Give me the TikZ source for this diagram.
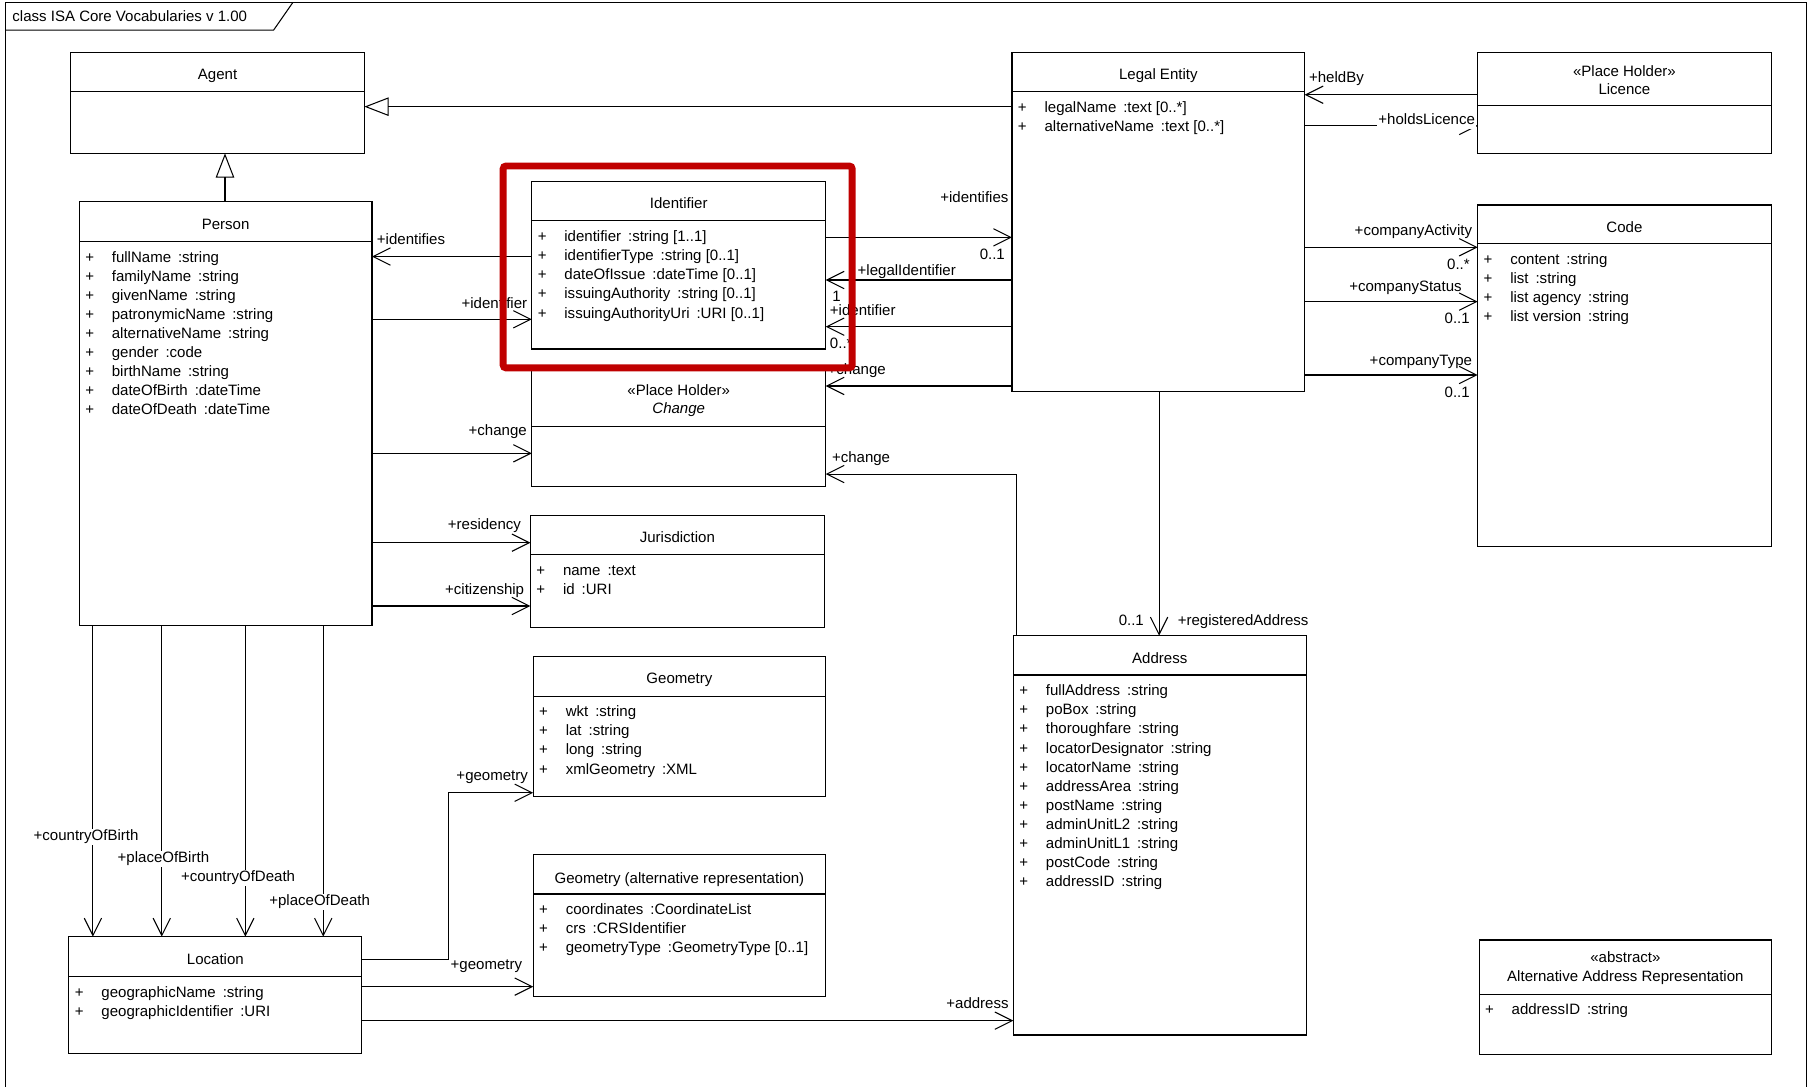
\documentclass[tikz,border=0pt]{standalone}
\usepackage{fontspec}
\setmainfont{Liberation Sans}
\usetikzlibrary{arrows.meta}
\definecolor{hlred}{RGB}{192,0,0}
\newcommand\mysep{\hspace{6pt}}
\tikzset{
  cls/.style={draw, line width=0.9pt, fill=white, inner sep=0pt, outer sep=0pt},
  ln/.style={line width=0.9pt},
  ttlC/.style={inner sep=0pt, anchor=base, yshift=-4.6pt},
  attrW/.style={inner sep=0pt, anchor=base west},
  lW/.style={inner sep=0pt, anchor=base west, yshift=-4.6pt},
  lE/.style={inner sep=0pt, anchor=base east, yshift=-4.6pt},
  lC/.style={inner sep=1pt, anchor=base, yshift=-4.6pt, fill=white},
  lEw/.style={inner sep=1pt, anchor=base east, yshift=-4.6pt, fill=white, text depth=3pt},
  assoc/.style={line width=0.9pt, -{Straight Barb[length=15pt,width=15pt]}},
  gen/.style={line width=0.9pt, -{Triangle[open,length=21pt,width=16pt]}},
}
\newcommand\umlbox[6]{%
  \node[cls, minimum width={(#4-#2)*1pt}, minimum height={(#5-#3)*1pt}] (#1) at ({(#2+#4)/2},{(#3+#5)/2}) {};
  \draw[ln] (#1.west |- 0,#6) -- (#1.east |- 0,#6);
}
\newcommand\attrs[4]{%
  \foreach \attrtext [count=\ai] in {#4} {
    \pgfmathsetmacro\attry{#3+13.4+16.5*(\ai-1)+4.6}
    \node[attrW] (#1-a\ai) at ({#2+5},\attry) {\makebox[23pt][l]{+}\attrtext};
  }
}
\begin{document}
\begin{tikzpicture}[x=1pt,y=-1pt,font=\fontsize{13}{15}\selectfont]
\useasboundingbox (0,0) rectangle (1568,940);
\clip (0,0) rectangle (1568,940);
\fill[white] (0,0) rectangle (1568,940);

% frame
\draw[ln] (5,990) -- (5,2.3) -- (1563.3,2.3) -- (1563.3,990);
\draw[ln] (5,26) -- (236.8,26) -- (253.3,2.3);
\node[lW] (frametitle) at (10.6,13.6) {class ISA Core Vocabularies v 1.00};

% classes
\umlbox{agent}{61.3}{45.3}{315.3}{132.7}{79.3}
\umlbox{person}{68.6}{174.5}{321.9}{540.9}{209.1}
\umlbox{ident}{460.2}{157.2}{714.5}{302}{191.2}
\umlbox{change}{460.2}{318}{714.5}{421}{369}
\umlbox{jur}{459}{445.7}{713.3}{543.2}{479.7}
\umlbox{geom}{461.4}{567.7}{714.5}{689.4}{602.3}
\umlbox{geomalt}{461.4}{739.3}{714.5}{862.5}{773.6}
\umlbox{loc}{59.6}{810.5}{313.1}{912}{845.2}
\umlbox{le}{875.7}{45.3}{1129}{338.4}{79.3}
\umlbox{lic}{1278.7}{45.3}{1532.6}{132.7}{91.7}
\umlbox{code}{1278.7}{177.4}{1532.6}{473}{211}
\umlbox{addr}{876.9}{550}{1130.2}{895.6}{584.1}
\umlbox{alt}{1279.9}{813.4}{1533.1}{912.1}{860.2}

% titles
\node[ttlC] (agent-t) at (agent.center |- 0,64.6) {Agent};
\node[ttlC] (person-t) at (person.center |- 0,194) {Person};
\node[ttlC] (ident-t) at (ident.center |- 0,176) {Identifier};
\node[ttlC] (change-s) at (change.center |- 0,338) {«Place Holder»};
\node[ttlC] (change-t) at (change.center |- 0,353.4) {\textit{Change}};
\node[ttlC] (jur-t) at (jur.center |- 0,465) {Jurisdiction};
\node[ttlC] (geom-t) at (geom.center |- 0,587) {Geometry};
\node[ttlC] (geomalt-t) at (geomalt.center |- 0,759.5) {Geometry (alternative representation)};
\node[ttlC] (loc-t) at (loc.center |- 0,830.2) {Location};
\node[ttlC] (le-t) at (le.center |- 0,64) {Legal Entity};
\node[ttlC] (lic-s) at (lic.center |- 0,61.2) {«Place Holder»};
\node[ttlC] (lic-t) at (lic.center |- 0,77.3) {Licence};
\node[ttlC] (code-t) at (code.center |- 0,196.7) {Code};
\node[ttlC] (addr-t) at (addr.center |- 0,569.7) {Address};
\node[ttlC] (alt-s) at (alt.center |- 0,828.5) {«abstract»};
\node[ttlC] (alt-t) at (alt.center |- 0,844.5) {Alternative Address Representation};

% attributes
\attrs{person}{68.6}{209.1}{fullName\mysep:string, familyName\mysep:string, givenName\mysep:string, patronymicName\mysep:string, alternativeName\mysep:string, gender\mysep:code, birthName\mysep:string, dateOfBirth\mysep:dateTime, dateOfDeath\mysep:dateTime}
\attrs{ident}{460.2}{191.2}{identifier\mysep:string [1..1], identifierType\mysep:string [0..1], dateOfIssue\mysep:dateTime [0..1], issuingAuthority\mysep:string [0..1], issuingAuthorityUri\mysep:URI [0..1]}
\attrs{jur}{459}{479.7}{name\mysep:text, id\mysep:URI}
\attrs{geom}{461.4}{602.3}{wkt\mysep:string, lat\mysep:string, long\mysep:string, xmlGeometry\mysep:XML}
\attrs{geomalt}{461.4}{773.6}{coordinates\mysep:CoordinateList, crs\mysep:CRSIdentifier, geometryType\mysep:GeometryType [0..1]}
\attrs{loc}{59.6}{845.2}{geographicName\mysep:string, geographicIdentifier\mysep:URI}
\attrs{le}{875.7}{79.3}{legalName\mysep:text [0..*], alternativeName\mysep:text [0..*]}
\attrs{code}{1278.7}{211}{content\mysep:string, list\mysep:string, list agency\mysep:string, list version\mysep:string}
\attrs{addr}{876.9}{584.1}{fullAddress\mysep:string, poBox\mysep:string, thoroughfare\mysep:string, locatorDesignator\mysep:string, locatorName\mysep:string, addressArea\mysep:string, postName\mysep:string, adminUnitL2\mysep:string, adminUnitL1\mysep:string, postCode\mysep:string, addressID\mysep:string}
\attrs{alt}{1279.9}{860.2}{addressID\mysep:string}

% connectors
\draw[gen] (le.west |- 0,92.3) -- (agent.east |- 0,92.3);
\draw[gen] (person.north -| 194.7,0) -- (agent.south -| 194.7,0);
\draw[assoc] (ident.west |- 0,222) -- (person.east |- 0,222);
\draw[assoc] (person.east |- 0,276.3) -- (ident.west |- 0,276.3);
\draw[assoc] (ident.east |- 0,205.4) -- (le.west |- 0,205.4);
\draw[assoc] (le.west |- 0,242.3) -- (ident.east |- 0,242.3);
\draw[assoc] (le.west |- 0,282.7) -- (ident.east |- 0,282.7);
\draw[assoc] (le.west |- 0,334) -- (change.east |- 0,334);
\draw[assoc] (person.east |- 0,392.3) -- (change.west |- 0,392.3);
\draw[assoc] (addr.north -| 879.4,0) |- (change.east |- 0,410.2);
\draw[assoc] (person.east |- 0,469.6) -- (jur.west |- 0,469.6);
\draw[assoc] (person.east |- 0,524.4) -- (jur.west |- 0,524.4);
\foreach \xx in {80.4,140,212.3,279.7}
  \draw[assoc] (person.south -| \xx,0) -- (loc.north -| \xx,0);
\coordinate (gbend) at (387.9,830);
\draw[assoc] (loc.east |- gbend) -- (gbend) |- (geom.west |- 0,686);
\draw[assoc] (loc.east |- 0,853.8) -- (geomalt.west |- 0,853.8);
\draw[assoc] (loc.east |- 0,883.2) -- (addr.west |- 0,883.2);
\draw[assoc] (le.south -| 1003,0) -- (addr.north -| 1003,0);
\draw[assoc] (lic.west |- 0,82) -- (le.east |- 0,82);
\draw[assoc] (le.east |- 0,109) -- (lic.west |- 0,109);
\draw[assoc] (le.east |- 0,214) -- (code.west |- 0,214);
\draw[assoc] (le.east |- 0,261) -- (code.west |- 0,261);
\draw[assoc] (le.east |- 0,324.5) -- (code.west |- 0,324.5);

% labels
\node[lW] (l1) at (326,207.1) {+identifies};
\node[lE] (l2) at (456.4,262) {+identifier};
\node[lE] (l3) at (872.8,170.2) {+identifies};
\node[lE] (l4) at (869.7,220) {0..1};
\node[lW] (l5) at (742,233.6) {+legalIdentifier};
\node[lW] (l6) at (720,255.9) {1};
\node[lW] (l7) at (718,268.3) {+identifier};
\node[lW] (l8) at (718,297) {0..*};
\node[lW] (l9) at (716,319.3) {+change};
\node[lE] (l10) at (456,372) {+change};
\node[lW] (l11) at (719.8,395.2) {+change};
\node[lE] (l12) at (451,453.7) {+residency};
\node[lE] (l13) at (453.7,509.7) {+citizenship};
\node[lC] (l14) at (74.5,723) {+countryOfBirth};
\node[lC] (l15) at (141.4,742) {+placeOfBirth};
\node[lC] (l16) at (206,758.6) {+countryOfDeath};
\node[lC] (l17) at (276.6,779) {+placeOfDeath};
\node[lE] (l18) at (457,671) {+geometry};
\node[lE] (l19) at (452,834.2) {+geometry};
\node[lE] (l20) at (873,868.2) {+address};
\node[lE] (l21) at (990,536.5) {0..1};
\node[lW] (l22) at (1019,536.5) {+registeredAddress};
\node[lW] (l23) at (1132.6,67.2) {+heldBy};
\node[lEw] (l24) at (1277.5,103) {+holdsLicence};
\node[lE] (l25) at (1274,199.6) {+companyActivity};
\node[lE] (l26) at (1272,229) {0..*};
\node[lE] (l27) at (1265,248) {+companyStatus};
\node[lE] (l28) at (1272,275) {0..1};
\node[lE] (l29) at (1274,311.5) {+companyType};
\node[lE] (l30) at (1272,339) {0..1};

% highlight
\node[draw=hlred, line width=6pt, rounded corners=2.5pt, inner sep=0pt, minimum width=302pt, minimum height=174.7pt] (hl) at (586.4,231) {};
\end{tikzpicture}
\end{document}
